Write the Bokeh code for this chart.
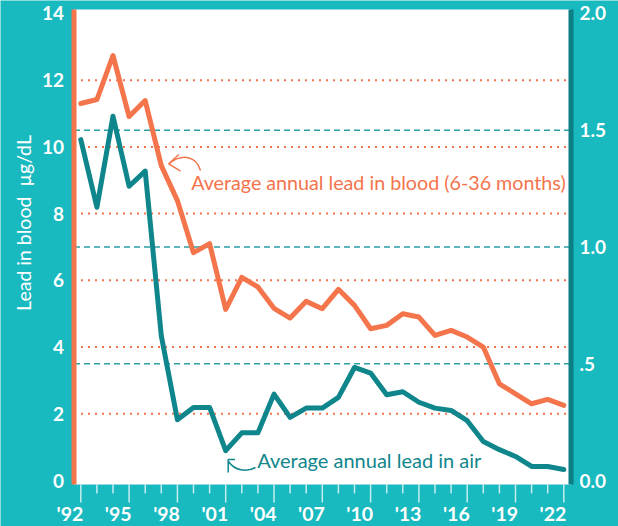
import math
from bokeh.plotting import figure
from bokeh.models import Range1d
from bokeh.core.properties import value
from bokeh.embed import file_html
from bokeh.resources import INLINE

# ---------------- data ----------------
years = list(range(1992, 2023))
blood = [11.30, 11.42, 12.74, 10.91, 11.39, 9.44, 8.39, 6.83, 7.10, 5.13,
         6.09, 5.80, 5.16, 4.87, 5.37, 5.15, 5.73, 5.25, 4.55, 4.65,
         5.00, 4.90, 4.35, 4.50, 4.30, 4.00, 2.90, 2.60, 2.30, 2.43, 2.25]
air = [1.46, 1.17, 1.56, 1.26, 1.325, 0.62, 0.26, 0.313, 0.313, 0.128,
       0.204, 0.204, 0.37, 0.27, 0.31, 0.31, 0.356, 0.484, 0.46, 0.367,
       0.38, 0.335, 0.31, 0.30, 0.256, 0.167, 0.132, 0.103, 0.06, 0.06, 0.047]

x_tick_years = [1992, 1995, 1998, 2001, 2004, 2007, 2010, 2013, 2016, 2019, 2022]
x_tick_labels = ["'92", "'95", "'98", "'01", "'04", "'07", "'10", "'13", "'16", "'19", "'22"]
blood_ticks = [0, 2, 4, 6, 8, 10, 12, 14]
blood_tick_labels = ["0", "2", "4", "6", "8", "10", "12", "14"]
blood_grid = [2, 4, 6, 8, 10, 12]
air_ticks = [0.0, 0.5, 1.0, 1.5, 2.0]
air_tick_labels = ["0.0", ".5", "1.0", "1.5", "2.0"]
air_grid = [0.5, 1.0, 1.5]

blood_title = "Average annual lead in blood (6-36 months)"
air_title = "Average annual lead in air"
left_axis_title = "Lead in blood\u00a0\u00a0\u00b5g/dL"

# ---------------- style / layout ----------------
TEAL_BG = "#18B9BF"
ORANGE = "#F4744C"
DARK_TEAL = "#0F868B"
AXIS_TEAL = "#0B7F84"
GRID_TEAL = "#2A9FA4"
TICK_WHITE = "#FFFFFF"
FONT = value("Lato")

W, H = 618, 526
PX_YEAR = 16.1        # pixels per year
PX_UNIT = 33.36       # pixels per µg/dL (left scale)
AIR_FACTOR = 7.0      # 14 µg/dL on the left  <->  2.0 on the right

# pixel helpers for layout positions
def dx(px):
    return 1992 + (px - 80.3) / PX_YEAR

def dy(py):
    return (480 - py) / PX_UNIT

XS, XE = dx(0), dx(W)
YS, YE = dy(H), dy(0)
PL, PR = dx(73.5), dx(570.5)      # plot-area left / right
PB, PT = dy(484), dy(9)           # plot-area bottom / top

p = figure(width=W, height=H,
           x_range=Range1d(XS, XE), y_range=Range1d(YS, YE),
           output_backend="svg", toolbar_location=None,
           x_axis_location=None, y_axis_location=None,
           min_border=0, min_border_left=0, min_border_right=0,
           min_border_top=0, min_border_bottom=0,
           border_fill_color=TEAL_BG, background_fill_color=TEAL_BG,
           outline_line_color=None)
p.extra_y_ranges = {"air": Range1d(YS / AIR_FACTOR, YE / AIR_FACTOR)}
p.grid.visible = False

# white plot area
p.quad(left=[PL], right=[PR], bottom=[PB], top=[PT], fill_color="white", line_color=None)

# horizontal reference lines
p.segment(x0=[PL] * len(blood_grid), x1=[PR] * len(blood_grid), y0=blood_grid, y1=blood_grid,
          line_color=ORANGE, line_width=2, line_dash="2 5")
p.segment(x0=[PL] * len(air_grid), x1=[PR] * len(air_grid), y0=air_grid, y1=air_grid,
          y_range_name="air", line_color=GRID_TEAL, line_width=1.5, line_dash="6 4")

# axis lines
p.segment(x0=[PL], x1=[PL], y0=[PB], y1=[PT], line_color=ORANGE, line_width=5)
p.segment(x0=[PR], x1=[PR], y0=[PB], y1=[PT], line_color=AXIS_TEAL, line_width=5)

# x ticks
minor_years = [y for y in years if y not in x_tick_years]
p.segment(x0=x_tick_years, x1=x_tick_years, y0=[PB] * len(x_tick_years),
          y1=[dy(502)] * len(x_tick_years), line_color=TICK_WHITE, line_alpha=0.75, line_width=1.5)
p.segment(x0=minor_years, x1=minor_years, y0=[PB] * len(minor_years),
          y1=[dy(493)] * len(minor_years), line_color=TICK_WHITE, line_alpha=0.75, line_width=1.5)

# x tick labels
p.text(x=x_tick_years, y=[dy(513)] * len(x_tick_years), text=x_tick_labels,
       x_offset=2.5, text_align="right", text_baseline="middle",
       text_font=FONT, text_font_style="bold", text_font_size="19.5px", text_color="white")

# left tick labels
p.text(x=[PL] * len(blood_ticks), y=blood_ticks, text=blood_tick_labels,
       x_offset=-10, text_align="right", text_baseline="middle",
       text_font=FONT, text_font_style="bold", text_font_size="19px", text_color="white")

# right tick labels
p.text(x=[PR] * len(air_ticks), y=air_ticks, text=air_tick_labels, y_range_name="air",
       x_offset=8.5, text_align="left", text_baseline="middle",
       text_font=FONT, text_font_style="bold", text_font_size="19px", text_color="white")

# left axis title
p.text(x=[dx(23)], y=[dy(222.5)], text=[left_axis_title], angle=math.pi / 2,
       text_align="center", text_baseline="middle",
       text_font=FONT, text_font_size="19.5px", text_color="white")

# series
p.line(years, air, y_range_name="air", line_color=DARK_TEAL, line_width=5,
       line_join="round", line_cap="round")
p.line(years, blood, line_color=ORANGE, line_width=5,
       line_join="round", line_cap="round")

# series annotations
p.text(x=[dx(190.7)], y=[dy(182)], text=[blood_title], text_baseline="middle",
       text_font=FONT, text_font_size="19.7px", text_color=ORANGE)
p.text(x=[dx(256.7)], y=[dy(459)], text=[air_title], text_baseline="middle",
       text_font=FONT, text_font_size="20px", text_color=DARK_TEAL)

# blood arrow
p.bezier(x0=[dx(168.3)], y0=[dy(163.3)], x1=[dx(200)], y1=[dy(170)],
         cx0=[dx(182)], cy0=[dy(152)], cx1=[dx(196)], cy1=[dy(156)],
         line_color=ORANGE, line_width=1.5)
p.multi_line(xs=[[dx(178.3), dx(168.3), dx(180)]], ys=[[dy(154), dy(163.3), dy(170.7)]],
             line_color=ORANGE, line_width=1.5)
# air arrow
p.bezier(x0=[dx(228)], y0=[dy(461)], x1=[dx(255)], y1=[dy(467)],
         cx0=[dx(234)], cy0=[dy(470)], cx1=[dx(246)], cy1=[dy(472)],
         line_color=DARK_TEAL, line_width=1.5)
p.multi_line(xs=[[dx(234.5), dx(227.7), dx(227.7)]], ys=[[dy(459), dy(459), dy(472)]],
             line_color=DARK_TEAL, line_width=1.5)

html = file_html(p, INLINE)
html = html.replace("<body>", '<body style="background:%s">' % TEAL_BG, 1)
open("out.html", "w").write(html)
